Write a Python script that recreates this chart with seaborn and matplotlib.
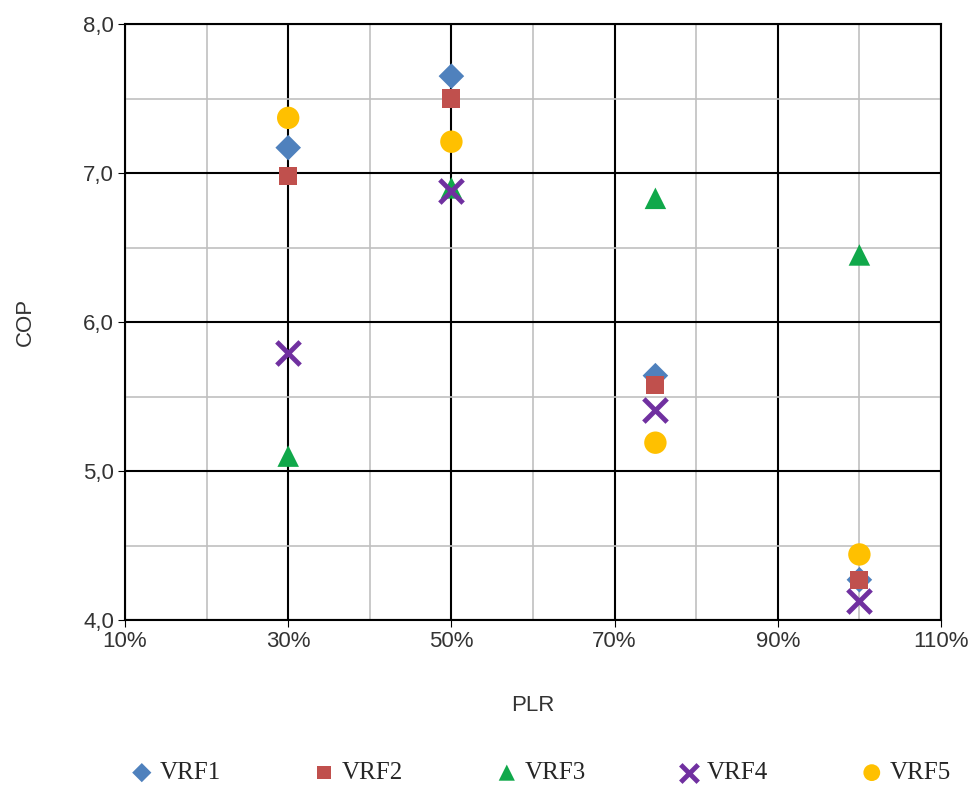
import numpy as np
import pandas as pd
import matplotlib
matplotlib.use("Agg")
import matplotlib.pyplot as plt
import seaborn as sns
from matplotlib.ticker import FuncFormatter, MultipleLocator, FixedLocator

# PLR (%) and COP values
plr = [30, 50, 75, 100]
vrf1 = [7.17, 7.65, 5.64, 4.27]
vrf2 = [6.98, 7.50, 5.58, 4.27]
vrf3 = [5.10, 6.90, 6.83, 6.45]
vrf4 = [5.79, 6.88, 5.41, 4.13]
vrf5 = [7.37, 7.21, 5.19, 4.44]

series = ["VRF1", "VRF2", "VRF3", "VRF4", "VRF5"]
values = [vrf1, vrf2, vrf3, vrf4, vrf5]
x_major = [10, 30, 50, 70, 90, 110]
x_minor = [20, 40, 60, 80, 100]
colors = ["#4F81BD", "#C0504D", "#10A84A", "#7030A0", "#FFC000"]
markers = ["D", "s", "^", "x", "o"]
sizes = [170, 170, 240, 280, 260]

df = pd.DataFrame({
    "PLR": plr * len(series),
    "COP": sum(values, []),
    "series": [s for s in series for _ in plr],
})

sns.set_style("white")
plt.rcParams["font.family"] = ["Liberation Sans", "DejaVu Sans"]

fig = plt.figure(figsize=(9.77, 7.96), dpi=100)
ax = fig.add_axes([125 / 977, 1 - 620 / 796, (941 - 125) / 977, (620 - 24) / 796])

for name, color, marker, size in zip(series, colors, markers, sizes):
    sub = df[df["series"] == name]
    kw = dict(linewidth=3.5) if marker == "x" else dict(edgecolor="none")
    sns.scatterplot(data=sub, x="PLR", y="COP", ax=ax, color=color, marker=marker,
                    s=size, label=name, zorder=3, **kw)

ax.set_xlim(10, 110)
ax.set_ylim(4, 8)
ax.xaxis.set_major_locator(FixedLocator(x_major))
ax.xaxis.set_minor_locator(FixedLocator(x_minor))
ax.yaxis.set_major_locator(MultipleLocator(1))
ax.yaxis.set_minor_locator(MultipleLocator(0.5))
ax.xaxis.set_major_formatter(FuncFormatter(lambda v, _: f"{int(round(v))}%"))
ax.yaxis.set_major_formatter(FuncFormatter(lambda v, _: f"{v:.1f}".replace(".", ",")))

ax.grid(which="minor", color="#C0C0C0", linewidth=1.2, zorder=0)
ax.grid(which="major", color="black", linewidth=1.5, zorder=1)
ax.set_axisbelow(True)
for sp in ax.spines.values():
    sp.set_color("black")
    sp.set_linewidth(1.5)

ax.tick_params(which="major", direction="out", length=5, color="black",
               labelsize=16, colors="#333333", left=True, bottom=True, pad=3)
ax.tick_params(which="minor", length=0)

ax.set_xlabel("PLR", fontsize=16, labelpad=31, color="#333333")
ax.set_ylabel("COP", fontsize=16, labelpad=34, color="#333333")

ax.legend(loc="upper center", bbox_to_anchor=(0.51, -0.2), ncol=5, frameon=False,
          prop={"family": "Liberation Serif", "size": 18}, columnspacing=3.75,
          handlelength=0.8, handletextpad=0.3, markerscale=0.75)

fig.savefig("out.png", dpi=100)
